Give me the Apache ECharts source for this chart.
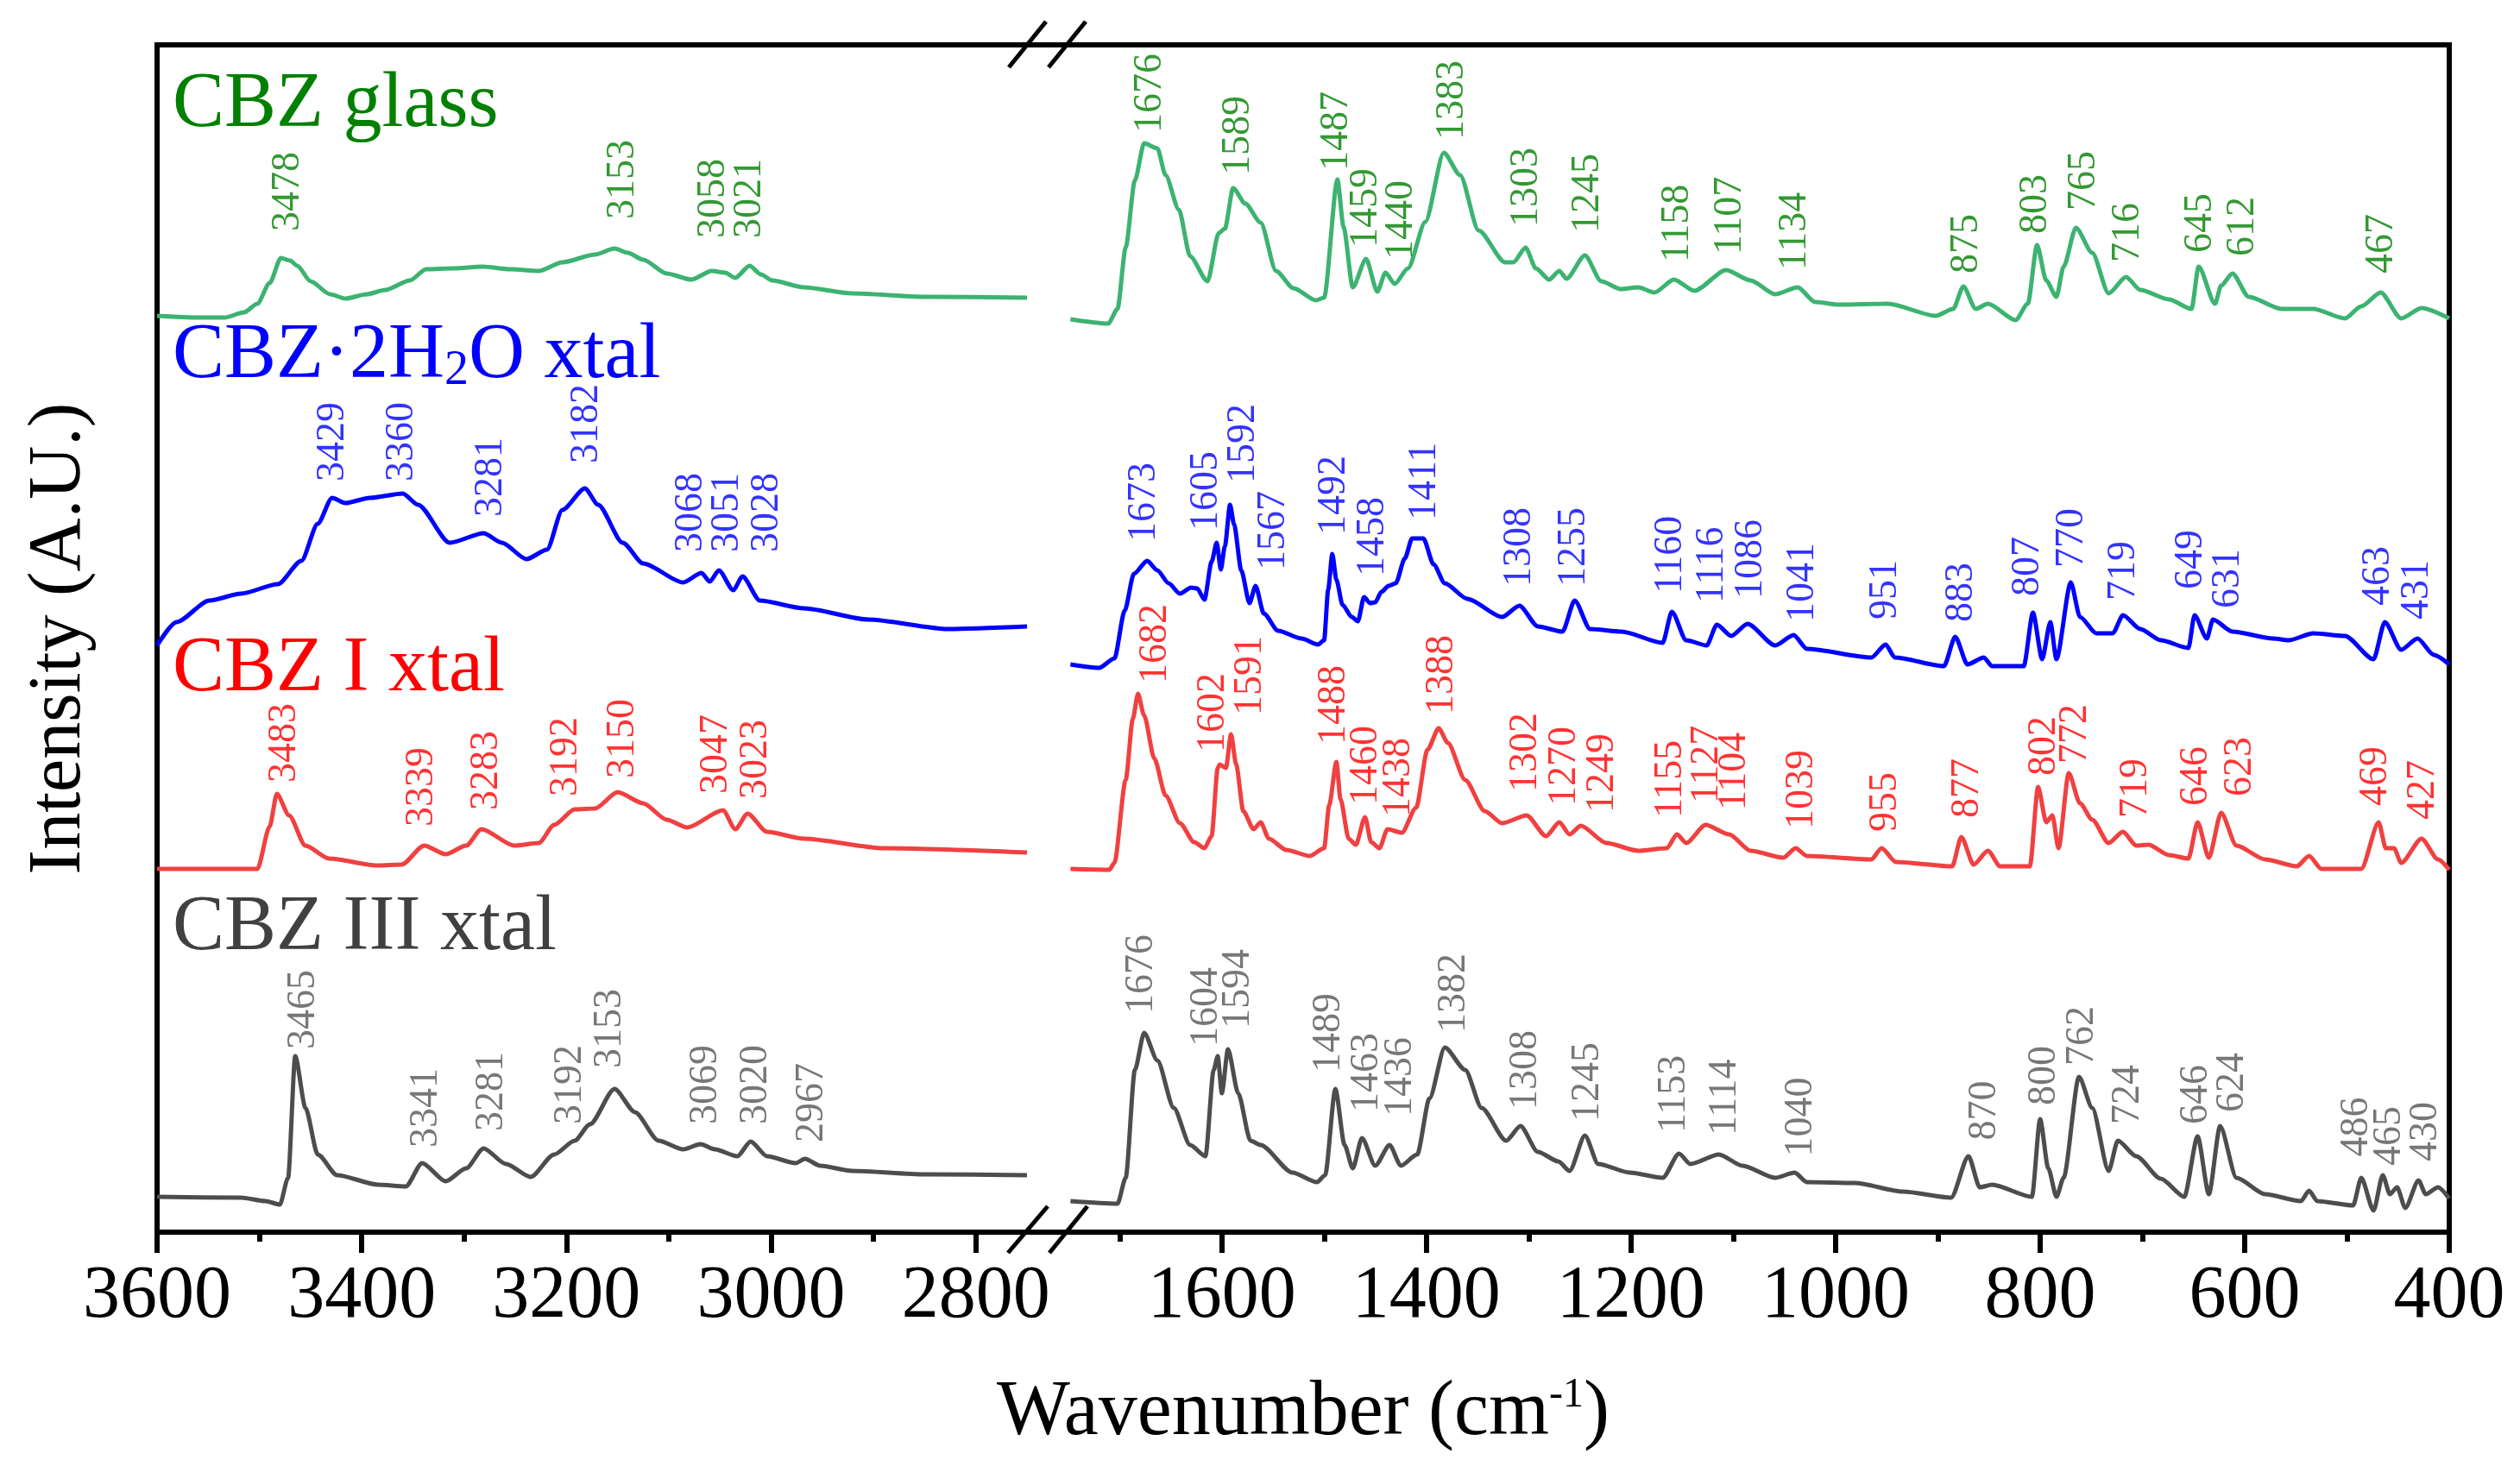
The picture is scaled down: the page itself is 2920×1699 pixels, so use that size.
<!DOCTYPE html>
<html><head><meta charset="utf-8">
<script src="https://cdn.jsdelivr.net/npm/echarts@6/dist/echarts.min.js"></script>
<style>html,body{margin:0;padding:0;background:#fff}#c{width:2920px;height:1699px}</style>
</head><body><div id="c"></div>
<script>
// ---------- DATA (wavenumber cm-1, stacked intensity A.U.) ----------
const glassHigh = [[3600,106.2],[3560,106.0],[3534,106.0],[3515,106.6],[3502,107.6],[3490,110.0],[3479,112.9],[3470,112.6],[3463,112.0],[3450,110.2],[3431,108.7],[3416,108.2],[3395,108.7],[3377,109.2],[3353,110.3],[3337,111.6],[3310,111.7],[3282,111.9],[3255,111.6],[3227,111.4],[3204,112.4],[3172,113.3],[3153,114.0],[3140,113.5],[3125,112.7],[3102,111.1],[3078,110.4],[3058,111.4],[3045,111.2],[3035,110.6],[3021,112.0],[3010,111.0],[2999,110.3],[2968,109.5],[2921,108.8],[2850,108.4],[2750,108.3]];
const glassLow = [[1748,105.8],[1711,105.3],[1702,107.0],[1694,114.1],[1685,121.9],[1676,126.2],[1663,125.6],[1655,122.5],[1642,118.5],[1631,113.1],[1614,110.2],[1603,115.8],[1597,116.3],[1589,121.0],[1577,119.2],[1562,117.0],[1547,111.4],[1530,109.4],[1508,108.0],[1500,108.3],[1487,122.0],[1481,116.5],[1472,109.5],[1459,112.8],[1448,109.0],[1440,111.2],[1431,109.9],[1418,111.7],[1401,117.1],[1383,125.1],[1367,122.5],[1349,116.1],[1323,112.4],[1315,112.4],[1303,114.1],[1293,111.7],[1280,110.4],[1270,111.4],[1263,110.5],[1245,113.2],[1229,110.2],[1210,109.3],[1193,109.5],[1177,108.9],[1158,110.4],[1138,109.1],[1107,111.5],[1083,110.3],[1059,108.7],[1037,109.5],[1020,107.8],[997,107.5],[949,107.6],[902,106.2],[885,107.0],[875,109.6],[863,107.0],[851,107.6],[824,105.7],[812,107.6],[803,114.4],[794,110.3],[784,108.4],[777,111.9],[765,116.4],[749,113.5],[733,108.8],[716,110.7],[702,109.2],[674,108.1],[652,107.0],[645,111.9],[629,107.6],[623,109.7],[612,111.1],[596,108.4],[564,107.0],[533,107.0],[502,105.9],[486,107.3],[467,108.9],[447,105.9],[427,107.1],[400,105.9]];

const hydrateHigh = [[3600,68.0],[3581,70.7],[3549,73.2],[3518,74.0],[3482,75.1],[3459,77.8],[3443,82.1],[3429,85.1],[3416,84.5],[3392,85.1],[3360,85.6],[3345,84.3],[3314,79.9],[3281,81.0],[3263,79.9],[3239,78.0],[3219,79.1],[3204,83.7],[3182,86.2],[3169,84.3],[3145,79.9],[3125,77.5],[3086,75.3],[3068,76.4],[3060,75.4],[3051,76.7],[3037,74.4],[3028,76.0],[3011,73.2],[2968,72.3],[2905,71.0],[2827,69.9],[2750,70.2]];
const hydrateLow = [[1748,65.8],[1720,65.4],[1705,66.5],[1695,72.0],[1686,76.3],[1673,77.8],[1663,76.7],[1652,75.2],[1641,74.0],[1630,74.7],[1624,74.6],[1617,73.3],[1610,77.7],[1605,79.9],[1601,76.8],[1597,79.5],[1592,84.3],[1588,82.0],[1581,76.7],[1573,72.9],[1567,74.9],[1559,71.7],[1545,69.7],[1522,68.8],[1506,68.1],[1500,68.6],[1496,74.5],[1492,78.6],[1488,75.6],[1482,72.7],[1473,71.3],[1467,70.8],[1461,73.6],[1455,72.9],[1450,73.0],[1444,74.2],[1437,74.9],[1430,75.2],[1421,78.1],[1414,80.4],[1403,80.4],[1393,77.4],[1382,75.2],[1360,73.4],[1326,71.3],[1309,72.6],[1291,70.2],[1267,69.6],[1255,73.2],[1240,69.9],[1209,69.6],[1169,68.3],[1160,71.9],[1146,68.6],[1126,68.0],[1116,70.4],[1102,69.1],[1086,70.5],[1059,68.0],[1041,69.2],[1028,67.6],[965,66.6],[951,68.1],[942,66.6],[894,65.6],[883,69.0],[871,65.8],[855,66.6],[847,65.6],[816,65.6],[807,71.8],[798,66.4],[790,70.7],[784,66.4],[770,75.3],[761,71.3],[745,69.4],[729,69.4],[719,71.5],[702,69.9],[682,68.6],[655,67.7],[649,71.5],[637,68.8],[631,71.0],[612,69.6],[572,68.8],[557,68.6],[533,69.4],[502,69.1],[474,66.4],[463,70.7],[447,67.5],[431,68.8],[415,66.9],[400,65.8]];

const formIHigh = [[3600,42.1],[3502,42.1],[3490,47.0],[3483,50.8],[3471,48.3],[3455,44.8],[3432,43.3],[3385,42.5],[3361,42.6],[3339,44.8],[3318,43.8],[3298,44.8],[3283,46.7],[3251,44.8],[3227,45.1],[3212,47.2],[3192,49.0],[3172,49.1],[3150,51.0],[3125,49.7],[3102,47.8],[3082,46.9],[3047,48.9],[3035,46.7],[3023,48.5],[3004,46.4],[2968,45.6],[2890,44.5],[2750,44.0]];
const formILow = [[1748,42.1],[1710,42.0],[1705,42.8],[1694,52.4],[1687,59.5],[1682,62.4],[1676,59.9],[1666,54.9],[1655,50.6],[1641,47.4],[1627,45.2],[1617,44.5],[1610,45.9],[1604,53.8],[1602,54.2],[1596,53.8],[1591,57.7],[1586,54.2],[1579,48.8],[1569,46.7],[1562,47.5],[1554,45.6],[1537,44.3],[1514,43.6],[1500,44.5],[1495,49.5],[1488,54.5],[1484,50.2],[1476,45.6],[1469,44.9],[1460,48.1],[1454,45.2],[1446,44.5],[1438,46.7],[1424,46.3],[1410,49.2],[1399,55.9],[1388,58.4],[1379,56.7],[1362,52.4],[1343,48.8],[1326,47.4],[1302,48.3],[1283,45.9],[1270,47.5],[1260,46.1],[1249,47.1],[1224,45.1],[1193,44.2],[1165,44.5],[1155,46.1],[1146,45.1],[1127,47.2],[1104,46.1],[1083,44.2],[1051,43.4],[1039,44.5],[1028,43.6],[965,43.2],[955,44.5],[941,42.9],[886,42.4],[877,45.8],[865,42.6],[851,44.2],[839,42.4],[810,42.4],[802,51.6],[794,47.5],[788,48.3],[782,44.5],[772,53.2],[761,49.7],[749,47.8],[733,45.1],[719,46.4],[706,44.8],[694,44.9],[674,43.7],[655,43.3],[646,47.5],[635,43.4],[623,48.6],[608,44.8],[580,43.2],[549,42.4],[537,43.6],[525,42.1],[486,42.1],[469,47.5],[462,44.5],[454,44.5],[447,42.8],[427,45.6],[411,43.2],[400,42.0]];

const formIIIHigh = [[3600,4.1],[3518,4.0],[3494,3.6],[3480,3.2],[3472,6.3],[3465,20.4],[3455,14.4],[3443,9.0],[3424,6.6],[3384,5.5],[3357,5.3],[3341,8.0],[3318,5.9],[3298,7.4],[3281,9.7],[3259,7.9],[3235,6.4],[3212,9.0],[3192,10.6],[3177,12.5],[3153,16.6],[3133,13.9],[3110,10.6],[3086,9.6],[3069,10.2],[3055,9.6],[3033,8.8],[3020,10.5],[3004,8.8],[2976,8.0],[2967,8.5],[2952,7.7],[2921,7.1],[2850,6.7],[2750,6.6]];
const formIIILow = [[1748,3.6],[1702,3.3],[1694,6.3],[1685,18.8],[1676,23.1],[1663,19.9],[1647,14.4],[1631,10.1],[1616,8.8],[1608,18.8],[1604,20.4],[1600,16.1],[1594,21.2],[1584,16.1],[1572,10.6],[1562,10.1],[1531,6.9],[1507,5.8],[1499,6.6],[1489,16.6],[1480,10.1],[1472,7.4],[1463,10.9],[1450,7.7],[1436,10.1],[1425,7.7],[1409,9.0],[1397,15.5],[1382,21.4],[1362,18.8],[1346,14.4],[1322,10.6],[1308,12.3],[1291,9.3],[1271,8.2],[1260,7.1],[1245,11.2],[1232,7.9],[1201,6.9],[1169,6.3],[1153,9.1],[1142,7.9],[1114,9.0],[1091,7.7],[1059,6.3],[1040,6.9],[1028,5.8],[981,5.7],[934,4.7],[887,4.0],[870,8.8],[859,5.2],[847,5.5],[808,4.1],[800,13.1],[792,7.4],[784,4.1],[777,6.3],[762,18.0],[749,14.4],[733,7.1],[724,10.6],[706,8.8],[682,6.2],[659,4.1],[646,11.1],[635,4.4],[624,12.3],[608,6.3],[580,4.4],[545,3.6],[537,4.8],[529,3.6],[494,3.1],[486,6.3],[474,2.5],[465,6.6],[458,4.4],[451,5.2],[443,2.8],[430,6.0],[423,4.4],[411,5.2],[400,3.9]];

// peak annotations: [wavenumber at label, intensity at label foot, text]
const glassPeaks = [[3472,116.0,'3478'],[3145,117.4,'3153'],[3056,115.2,'3058'],[3021,115.2,'3021'],[1670,127.4,'1676'],[1584,122.5,'1589'],[1488,123.0,'1487'],[1459,114.1,'1459'],[1424,112.7,'1440'],[1375,126.6,'1383'],[1302,116.5,'1303'],[1242,115.8,'1245'],[1154,112.4,'1158'],[1103,113.3,'1107'],[1040,111.5,'1134'],[872,111.1,'875'],[804,115.7,'803'],[757,118.4,'765'],[714,112.4,'716'],[643,113.5,'645'],[602,113.1,'612'],[466,111.1,'467']];
const hydratePeaks = [[3428,87.0,'3429'],[3361,87.0,'3360'],[3274,82.9,'3281'],[3180,89.1,'3182'],[3078,78.8,'3068'],[3043,78.8,'3051'],[3004,78.8,'3028'],[1676,80.0,'1673'],[1615,81.3,'1605'],[1579,86.8,'1592'],[1549,76.7,'1567'],[1490,80.8,'1492'],[1452,76.0,'1458'],[1402,82.5,'1411'],[1309,74.8,'1308'],[1256,74.8,'1255'],[1161,74.0,'1160'],[1121,72.9,'1116'],[1083,73.4,'1086'],[1032,70.7,'1041'],[951,71.0,'951'],[877,70.7,'883'],[812,73.7,'807'],[769,77.0,'770'],[718,73.2,'719'],[652,74.5,'649'],[616,72.3,'631'],[469,72.6,'463'],[431,71.0,'431']];
const formIPeaks = [[3475,52.1,'3483'],[3341,47.0,'3339'],[3278,48.9,'3283'],[3200,50.5,'3192'],[3145,52.6,'3150'],[3054,50.8,'3047'],[3015,50.2,'3023'],[1665,63.6,'1682'],[1608,55.6,'1602'],[1572,59.9,'1591'],[1490,56.5,'1488'],[1459,49.5,'1460'],[1427,48.1,'1438'],[1385,60.0,'1388'],[1303,51.0,'1302'],[1265,49.4,'1270'],[1228,48.6,'1249'],[1161,48.0,'1155'],[1126,49.7,'1127'],[1099,48.9,'1104'],[1033,46.7,'1039'],[951,46.4,'955'],[871,48.0,'877'],[796,52.9,'802'],[765,54.3,'772'],[706,48.0,'719'],[647,49.4,'646'],[604,50.5,'623'],[472,49.4,'469'],[425,47.8,'427']];
const formIIIPeaks = [[3457,21.2,'3465'],[3337,9.8,'3341'],[3273,11.7,'3281'],[3196,12.5,'3192'],[3157,19.0,'3153'],[3064,12.5,'3069'],[3015,12.5,'3020'],[2960,10.4,'2967'],[1678,25.3,'1676'],[1615,21.5,'1604'],[1584,23.6,'1594'],[1495,18.5,'1489'],[1458,13.9,'1463'],[1425,13.4,'1436'],[1373,23.1,'1382'],[1303,14.2,'1308'],[1242,12.8,'1245'],[1158,11.5,'1153'],[1108,11.2,'1114'],[1034,8.75,'1040'],[854,10.65,'870'],[796,14.7,'800'],[759,19.3,'762'],[714,12.5,'724'],[647,12.5,'646'],[612,13.9,'624'],[490,8.75,'486'],[458,7.7,'465'],[423,8.2,'430']];

const highMajor = [3600,3400,3200,3000,2800];
const highMinor = [3500,3300,3100,2900];
const lowMajor = [1600,1400,1200,1000,800,600,400];
const lowMinor = [1700,1500,1300,1100,900,700,500];
const highRange = [2750,3600];
const lowRange = [400,1750];
const seriesNames = ['CBZ glass','CBZ·2H₂O xtal','CBZ I xtal','CBZ III xtal'];

// ---------- STYLE ----------
const FONT = 'Liberation Serif';
const lineColors = ['#3cb371','#0000ff','#f04040','#4d4d4d'];
const labelColors = ['#008000','#0000ff','#ff0000','#555555'];
const titleColors = ['#008000','#0000ff','#ff0000','#404040'];

const chart = echarts.init(document.getElementById('c'));

function mainX(gi, range, major) {
  return {
    gridIndex: gi, type: 'value', min: range[0], max: range[1], inverse: true, position: 'bottom',
    axisLine: {show: true, onZero: false, lineStyle: {color: '#000', width: 6, cap: 'square'}},
    axisTick: {show: true, inside: false, length: 24, customValues: major, lineStyle: {color: '#000', width: 6}},
    axisLabel: {show: true, customValues: major, margin: 32, fontSize: 86, fontFamily: FONT, color: '#000',
      formatter: v => String(v)},
    splitLine: {show: false}
  };
}
function minorX(gi, range, minor) {
  return {
    gridIndex: gi, type: 'value', min: range[0], max: range[1], inverse: true, position: 'bottom',
    axisLine: {show: false, onZero: false},
    axisTick: {show: true, inside: false, length: 11, customValues: minor, lineStyle: {color: '#000', width: 6}},
    axisLabel: {show: false}, splitLine: {show: false}
  };
}
function topX(gi, range) {
  return {
    gridIndex: gi, type: 'value', min: range[0], max: range[1], inverse: true, position: 'top',
    axisLine: {show: true, onZero: false, lineStyle: {color: '#000', width: 6, cap: 'square'}},
    axisTick: {show: false}, axisLabel: {show: false}, splitLine: {show: false}
  };
}

function lineSeries(data, xi, yi, color) {
  return {type: 'line', xAxisIndex: xi, yAxisIndex: yi, data: data, showSymbol: false, symbol: 'none',
    smooth: 0.25, smoothMonotone: 'x',
    lineStyle: {color: color, width: 5, join: 'round'}, silent: true, z: 3};
}
function peakSeries(peaks, xi, yi, color, high) {
  const d = peaks.filter(p => high ? p[0] > 2000 : p[0] < 2000).map(p => ({value: [p[0], p[1]], name: p[2]}));
  return {type: 'scatter', xAxisIndex: xi, yAxisIndex: yi, data: d, symbolSize: 0, silent: true, z: 4,
    label: {show: true, formatter: q => q.name, rotate: 90, position: 'inside', align: 'left', verticalAlign: 'middle',
      color: color, fontSize: 46, fontFamily: FONT}};
}

const curves = [[glassHigh, glassLow],[hydrateHigh, hydrateLow],[formIHigh, formILow],[formIIIHigh, formIIILow]];
const peaks = [glassPeaks, hydratePeaks, formIPeaks, formIIIPeaks];
const series = [];
curves.forEach((c, i) => {
  series.push(lineSeries(c[0], 0, 0, lineColors[i]));
  series.push(lineSeries(c[1], 3, 1, lineColors[i]));
  series.push(peakSeries(peaks[i], 0, 0, labelColors[i], true));
  series.push(peakSeries(peaks[i], 3, 1, labelColors[i], false));
});

const titleY = [122, 413, 776, 1076];
const graphics = [];
titleY.forEach((y, i) => {
  const isHyd = i === 1;
  graphics.push({type: 'text', x: 200, y: y, z: 10, style: {
    text: isHyd ? '{a|CBZ·2H}{s|2}{a|O xtal}' : '{a|' + seriesNames[i] + '}',
    rich: {a: {fontSize: 90, fontFamily: FONT, fill: titleColors[i], lineHeight: 90},
           s: {fontSize: 56, fontFamily: FONT, fill: titleColors[i], lineHeight: 16, verticalAlign: 'bottom'}},
    align: 'left', verticalAlign: 'middle'}});
});
// x-axis title
graphics.push({type: 'text', x: 1510, y: 1638, z: 10, style: {
  text: '{a|Wavenumber (cm}{b|-1}{a|)}',
  rich: {a: {fontSize: 90, fontFamily: FONT, fill: '#000', lineHeight: 90},
         b: {fontSize: 48, fontFamily: FONT, fill: '#000', lineHeight: 30, verticalAlign: 'top'}},
  align: 'center', verticalAlign: 'middle'}});
// frame across break + break marks
const bl = {stroke: '#000', lineWidth: 6};
graphics.push({type: 'line', shape: {x1: 1188, y1: 52, x2: 1240, y2: 52}, style: bl, z: 10});
graphics.push({type: 'line', shape: {x1: 1188, y1: 1428, x2: 1240, y2: 1428}, style: bl, z: 10});
const sl = {stroke: '#000', lineWidth: 5};
[[1169,78,1212,25],[1215,78,1258,25],[1168,1452,1214,1398],[1216,1452,1260,1398]].forEach(s =>
  graphics.push({type: 'line', shape: {x1: s[0], y1: s[1], x2: s[2], y2: s[3]}, style: sl, z: 11}));

chart.setOption({
  animation: false,
  backgroundColor: '#fff',
  grid: [
    {left: 182, top: 52, width: 1008, height: 1376},
    {left: 1238, top: 52, width: 1600, height: 1376}
  ],
  xAxis: [
    mainX(0, highRange, highMajor), minorX(0, highRange, highMinor), topX(0, highRange),
    mainX(1, lowRange, lowMajor), minorX(1, lowRange, lowMinor), topX(1, lowRange)
  ],
  yAxis: [
    {gridIndex: 0, type: 'value', min: 0, max: 137.6, position: 'left',
     name: 'Intensity (A.U.)', nameLocation: 'middle', nameRotate: 90, nameGap: 70,
     nameTextStyle: {fontSize: 86, fontFamily: FONT, color: '#000'},
     axisLine: {show: true, onZero: false, lineStyle: {color: '#000', width: 6, cap: 'square'}},
     axisTick: {show: false}, axisLabel: {show: false}, splitLine: {show: false}},
    {gridIndex: 1, type: 'value', min: 0, max: 137.6, position: 'right',
     axisLine: {show: true, onZero: false, lineStyle: {color: '#000', width: 6, cap: 'square'}},
     axisTick: {show: false}, axisLabel: {show: false}, splitLine: {show: false}}
  ],
  series: series,
  graphic: graphics
});
</script></body></html>
